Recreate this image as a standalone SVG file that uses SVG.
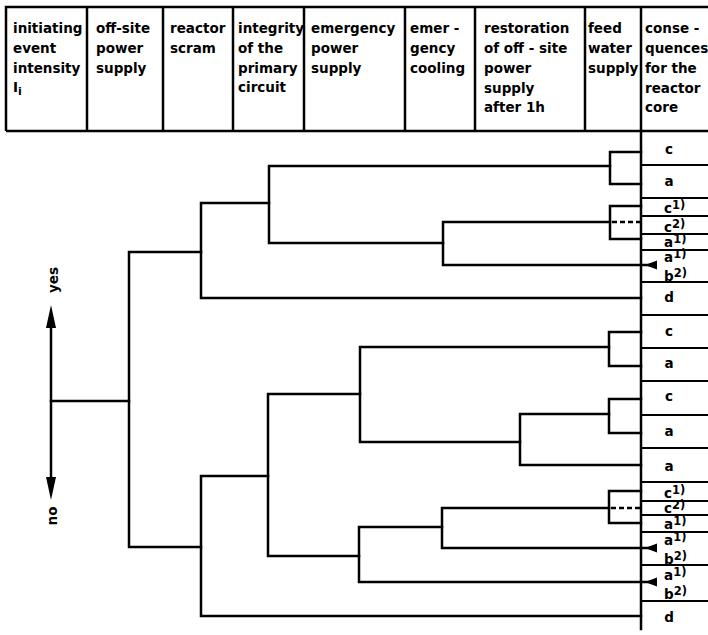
<svg xmlns="http://www.w3.org/2000/svg" width="708" height="635" viewBox="0 0 708 635">
<style>
text{font-family:"DejaVu Sans","Liberation Sans",sans-serif;font-weight:bold;font-size:13.5px;fill:#000}
.hd{stroke:#000;stroke-width:2.5;fill:none}
.tr{stroke:#000;stroke-width:2.5;fill:none;stroke-linejoin:miter;stroke-linecap:square}
.cl{stroke:#000;stroke-width:2;fill:none}
.ds{stroke:#000;stroke-width:2.5;fill:none;stroke-dasharray:5 3}
.lb{text-anchor:middle}
.sup{font-size:11.5px}
</style>
<rect width="708" height="635" fill="#fff"/>
<g id="header">
<path class="hd" d="M6,131 V7 H708 M6,131 H708 M87,7 V131 M163,7 V131 M233,7 V131 M304,7 V131 M405,7 V131 M475,7 V131 M585,7 V131 M641,7 V131"/>
<g id="h1"><text x="13" y="33">initiating</text><text x="13" y="53">event</text><text x="13" y="73">intensity</text><text x="13" y="92" font-family="'DejaVu Serif',serif">I<tspan dy="3" font-size="11" font-family="'DejaVu Sans',sans-serif">i</tspan></text></g>
<g id="h2"><text x="96" y="33">off-site</text><text x="96" y="53">power</text><text x="96" y="73">supply</text></g>
<g id="h3"><text x="170" y="33">reactor</text><text x="170" y="53">scram</text></g>
<g id="h4"><text x="238" y="33">integrity</text><text x="238" y="53">of the</text><text x="238" y="73">primary</text><text x="238" y="92">circuit</text></g>
<g id="h5"><text x="311" y="33">emergency</text><text x="311" y="53">power</text><text x="311" y="73">supply</text></g>
<g id="h6"><text x="410" y="33">emer -</text><text x="410" y="53">gency</text><text x="410" y="73">cooling</text></g>
<g id="h7"><text x="484" y="33">restoration</text><text x="484" y="53">of off - site</text><text x="484" y="73">power</text><text x="484" y="93">supply</text><text x="484" y="112">after 1h</text></g>
<g id="h8"><text x="588" y="33">feed</text><text x="588" y="53">water</text><text x="588" y="73">supply</text></g>
<g id="h9"><text x="645" y="33">conse -</text><text x="645" y="53">quences</text><text x="645" y="73">for the</text><text x="645" y="93">reactor</text><text x="645" y="112">core</text></g>
</g>
<g id="yesno">
<path class="tr" d="M51,322 V483"/>
<polygon points="51,305 46,328 56,328" fill="#000"/>
<polygon points="51,500 46,477 56,477" fill="#000"/>
<text class="lb" transform="translate(58,280) rotate(-90)">yes</text>
<text class="lb" transform="translate(57,516) rotate(-90)">no</text>
</g>
<g id="connectors">
<path class="tr" d="M51,401 H129"/>
<path class="tr" d="M201,252 H129 V547 H201"/>
<path class="tr" d="M269,203 H201 V298 H641"/>
<path class="tr" d="M610,166 H269 V243 H443"/>
<path class="tr" d="M610,222 H443 V265 H655"/>
<path class="tr" d="M641,152 H610 V184 H641"/>
<path class="tr" d="M641,206 H610 V239 H641"/>
<path class="ds" d="M612,222 H641"/>
<path class="tr" d="M268,476 H201 V616 H641"/>
<path class="tr" d="M360,394 H268 V556 H359"/>
<path class="tr" d="M609,347 H360 V442 H520"/>
<path class="tr" d="M609,414 H520 V465 H641"/>
<path class="tr" d="M442,527 H359 V582 H655"/>
<path class="tr" d="M609,508 H442 V548 H655"/>
<path class="tr" d="M641,332 H609 V366 H641"/>
<path class="tr" d="M641,399 H609 V433 H641"/>
<path class="tr" d="M641,491 H609 V523 H641"/>
<path class="ds" d="M611,508 H641"/>
<polygon points="645,265 657,260.5 657,269.5" fill="#000"/>
<polygon points="645,548 657,543.5 657,552.5" fill="#000"/>
<polygon points="645,582 657,577.5 657,586.5" fill="#000"/>
</g>
<g id="consequences">
<path class="tr" d="M641,131 V629"/>
<path class="cl" d="M641,165 H708 M641,198 H708 M641,216 H708 M641,234 H708 M641,250 H708 M641,282 H708 M641,315 H708 M641,348 H708 M641,381 H708 M641,415 H708 M641,448 H708 M641,482 H708 M641,501 H708 M641,515 H708 M641,532 H708 M641,565 H708 M641,601 H708"/>
<g id="o1"><text class="lb" x="669" y="154">c</text></g>
<g id="o2"><text class="lb" x="669" y="186">a</text></g>
<g id="o3"><text x="664" y="213">c<tspan class="sup" dy="-4">1)</tspan></text></g>
<g id="o4"><text x="664" y="232">c<tspan class="sup" dy="-4">2)</tspan></text></g>
<g id="o5"><text x="664" y="247">a<tspan class="sup" dy="-4">1)</tspan></text></g>
<g id="o6"><text x="664" y="262">a<tspan class="sup" dy="-4">1)</tspan></text><text x="664" y="281">b<tspan class="sup" dy="-4">2)</tspan></text></g>
<g id="o7"><text class="lb" x="669" y="302">d</text></g>
<g id="o8"><text class="lb" x="669" y="336">c</text></g>
<g id="o9"><text class="lb" x="669" y="368">a</text></g>
<g id="o10"><text class="lb" x="669" y="401">c</text></g>
<g id="o11"><text class="lb" x="669" y="436">a</text></g>
<g id="o12"><text class="lb" x="669" y="471">a</text></g>
<g id="o13"><text x="664" y="498">c<tspan class="sup" dy="-4">1)</tspan></text></g>
<g id="o14"><text x="664" y="513">c<tspan class="sup" dy="-4">2)</tspan></text></g>
<g id="o15"><text x="664" y="529">a<tspan class="sup" dy="-4">1)</tspan></text></g>
<g id="o16"><text x="664" y="545">a<tspan class="sup" dy="-4">1)</tspan></text><text x="664" y="564">b<tspan class="sup" dy="-4">2)</tspan></text></g>
<g id="o17"><text x="664" y="580">a<tspan class="sup" dy="-4">1)</tspan></text><text x="664" y="599">b<tspan class="sup" dy="-4">2)</tspan></text></g>
<g id="o18"><text class="lb" x="669" y="622">d</text></g>
</g>
</svg>
